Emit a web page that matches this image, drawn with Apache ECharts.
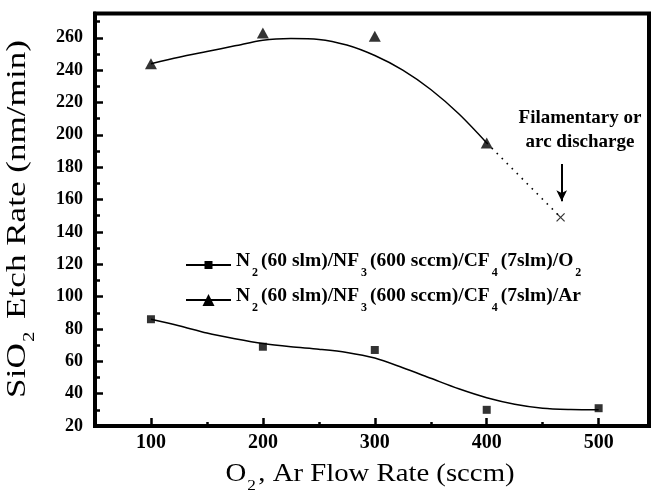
<!DOCTYPE html>
<html><head><meta charset="utf-8">
<script src="https://cdn.jsdelivr.net/npm/echarts@6/dist/echarts.min.js"></script>
<style>html,body{margin:0;padding:0;background:#fff}#c{width:652px;height:502px}</style>
</head><body><div id="c"></div>
<script>
// ---- data ----
const xTickLabels = [100, 200, 300, 400, 500];
const yTickLabels = [20, 40, 60, 80, 100, 120, 140, 160, 180, 200, 220, 240, 260];
const o2Flow = [100, 200, 300, 400, 500];
const o2Rate = [86, 69, 67, 30, 31];
const arFlow = [100, 200, 300, 400];
const arRate = [244, 263, 261, 195];
const o2FitFlow = [100, 125, 150, 175, 200, 225, 250, 275, 300, 325, 350, 375, 400, 425, 450, 475, 500];
const o2FitRate = [86, 82, 77.5, 74, 71, 69, 67.5, 65.5, 62, 56, 49.5, 43, 37.5, 33.5, 31, 30.2, 30];
const arFitFlow = [100, 125, 150, 175, 200, 225, 250, 275, 300, 325, 350, 375, 400];
const arFitRate = [244, 248, 251.5, 255, 258.5, 259.5, 259, 255.5, 249, 240, 228, 213, 195];
const arcFlow = [400, 466];
const arcRate = [195, 149];
const arrowFlow = [467, 467];
const arrowRate = [182, 159];
const o2Name = 'N2 (60 slm)/NF3 (600 sccm)/CF4 (7slm)/O2';
const arName = 'N2 (60 slm)/NF3 (600 sccm)/CF4 (7slm)/Ar';

const F = 'Liberation Serif';
const zip = (a, b) => a.map((v, i) => [v, b[i]]);
const richLegend = {
  n: {fontFamily: F, fontSize: 19.5, fontWeight: 'bold', color: '#000', lineHeight: 28, verticalAlign: 'top'},
  s: {fontFamily: F, fontSize: 12, fontWeight: 'bold', color: '#000', lineHeight: 28, verticalAlign: 'bottom', padding: [0, 3, 0, 2]}
};
function legendFmt(name) {
  const last = name.endsWith('O2') ? '{n|(7slm)/O}{s|2}' : '{n|(7slm)/Ar}';
  return '{n|N}{s|2}{n|(60 slm)/NF}{s|3}{n|(600 sccm)/CF}{s|4}' + last;
}
function legendCfg(name, top, ih) {
  return {
    data: [name], left: 180, top: top, orient: 'vertical', itemWidth: 45, itemHeight: ih,
    formatter: legendFmt, textStyle: {rich: richLegend}, selectedMode: false
  };
}

const chart = echarts.init(document.getElementById('c'));
const axLabel = {fontFamily: F, fontWeight: 'bold', color: '#000'};
chart.setOption({
  animation: false,
  backgroundColor: '#fff',
  grid: {left: 95, right: 3, top: 13.5, bottom: 76, show: true, borderColor: '#000', borderWidth: 4},
  legend: [legendCfg(o2Name, 246, 10), legendCfg(arName, 281, 15)],
  xAxis: [{
    type: 'value', min: 50, max: 545, interval: 50, position: 'bottom',
    axisLine: {show: true, onZero: false, lineStyle: {color: '#000', width: 4}},
    axisTick: {show: true, inside: true, length: 4, lineStyle: {color: '#000', width: 2.5}},
    axisLabel: Object.assign({fontSize: 20, margin: 7,
      formatter: v => xTickLabels.includes(v) ? String(v) : ''}, axLabel),
    splitLine: {show: false}
  }, {
    type: 'value', min: 50, max: 545, splitNumber: 5, position: 'bottom',
    axisLine: {show: false}, axisLabel: {show: false}, splitLine: {show: false},
    axisTick: {show: true, inside: true, length: 8, lineStyle: {color: '#000', width: 2.5}}
  }],
  yAxis: [{
    type: 'value', min: 20, max: 275, interval: 10,
    axisLine: {show: true, onZero: false, lineStyle: {color: '#000', width: 4}},
    axisTick: {show: true, inside: true, length: 5, lineStyle: {color: '#000', width: 2.5}},
    axisLabel: Object.assign({fontSize: 18, margin: 12,
      formatter: v => yTickLabels.includes(v) ? String(v) : ''}, axLabel),
    splitLine: {show: false}
  }, {
    type: 'value', min: 20, max: 275, interval: 20, position: 'left',
    axisLine: {show: false}, axisLabel: {show: false}, splitLine: {show: false},
    axisTick: {show: true, inside: true, length: 8, lineStyle: {color: '#000', width: 2.5}}
  }],
  series: [
    {name: o2Name, type: 'line', smooth: 0.3, showSymbol: false, symbol: 'rect', data: zip(o2FitFlow, o2FitRate),
     lineStyle: {color: '#000', width: 1.5}, itemStyle: {color: '#000'}, silent: true},
    {name: arName, type: 'line', smooth: 0.3, showSymbol: false, symbol: 'triangle', data: zip(arFitFlow, arFitRate),
     lineStyle: {color: '#000', width: 1.5}, itemStyle: {color: '#000'}, silent: true},
    {name: 'o2pts', type: 'scatter', symbol: 'rect', symbolSize: 8, data: zip(o2Flow, o2Rate),
     itemStyle: {color: '#000'}, z: 5},
    {name: 'arpts', type: 'scatter', symbol: 'triangle', symbolSize: [12, 11], data: zip(arFlow, arRate),
     itemStyle: {color: '#000'}, z: 5},
    {name: 'arc', type: 'line', showSymbol: false, symbol: 'none', data: zip(arcFlow, arcRate),
     lineStyle: {color: '#000', width: 1.6, type: [1.6, 5.5]}, silent: true},
    {name: 'arcpt', type: 'scatter', symbol: 'path://M0,0L10,10M10,0L0,10', symbolSize: 8,
     data: [[arcFlow[1], arcRate[1]]],
     itemStyle: {color: 'none', borderColor: '#000', borderWidth: 1.2}, z: 5,
     markLine: {silent: true, symbol: ['none', 'arrow'], symbolSize: [8, 11], label: {show: false},
       lineStyle: {color: '#000', width: 2, type: 'solid'},
       data: [[{coord: [arrowFlow[0], arrowRate[0]]}, {coord: [arrowFlow[1], arrowRate[1]]}]]}}
  ],
  graphic: [
    {type: 'text', x: 21, y: 219, rotation: Math.PI / 2, scaleX: 1.3,
     style: {text: '{n|SiO}{s|2}{n| Etch Rate (nm/min)}', align: 'center', verticalAlign: 'middle',
       rich: {n: {fontFamily: F, fontSize: 27, color: '#000', lineHeight: 34, verticalAlign: 'top'},
              s: {fontFamily: F, fontSize: 16, color: '#000', lineHeight: 34, verticalAlign: 'bottom', padding: [0, 3, 0, 1]}}}},
    {type: 'text', x: 370, y: 478, scaleX: 1.15,
     style: {text: '{n|O}{s|2}{n|, Ar Flow Rate (sccm)}', align: 'center', verticalAlign: 'middle',
       rich: {n: {fontFamily: F, fontSize: 25, color: '#000', lineHeight: 32, verticalAlign: 'top'},
              s: {fontFamily: F, fontSize: 15, color: '#000', lineHeight: 32, verticalAlign: 'bottom', padding: [0, 2, 0, 1]}}}},
    {type: 'text', x: 580, y: 130,
     style: {text: 'Filamentary or\narc discharge', align: 'center', verticalAlign: 'middle',
       fontFamily: F, fontWeight: 'bold', fontSize: 19, lineHeight: 24, fill: '#000'}}
  ]
});
</script></body></html>
